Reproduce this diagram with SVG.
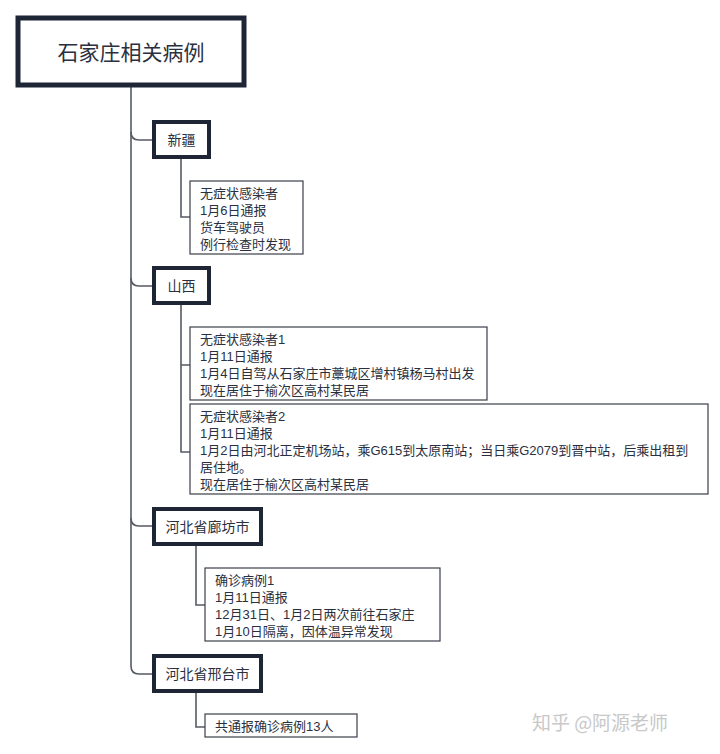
<svg xmlns="http://www.w3.org/2000/svg" width="720" height="754" viewBox="0 0 720 754">
<style>
.cat{fill:#fff;stroke:#1e2535;stroke-width:4}
.leaf{fill:#fff;stroke:#3a3f4a;stroke-width:1.2}
.ct{font-family:"Liberation Sans","Noto Sans CJK SC",sans-serif;font-size:14px;fill:#2a3040}
.lt{font-family:"Liberation Sans","Noto Sans CJK SC",sans-serif;font-size:13px;fill:#2a3040}
.ln{fill:none;stroke:#555a63;stroke-width:1.6}
</style>
<rect width="720" height="754" fill="#fff"/>
<g id="connectors">
<path class="ln" d="M131 86 V666 Q131 674 139 674 H152"/>
<path class="ln" d="M131 132 Q131 140 139 140 H152"/>
<path class="ln" d="M131 278 Q131 286 139 286 H152"/>
<path class="ln" d="M131 518 Q131 526 139 526 H152"/>
<path class="ln" d="M181 158 V217 H190"/>
<path class="ln" d="M181 305 V452 H190 M181 365 H190"/>
<path class="ln" d="M196 545 V605 H205"/>
<path class="ln" d="M196 692 V727 H205"/>
</g>
<g id="root"><rect x="18" y="18" width="226" height="67" fill="#fff" stroke="#1e2535" stroke-width="5"/>
<text x="131" y="60" text-anchor="middle" font-family="Noto Sans CJK SC,Liberation Sans,sans-serif" font-size="21" fill="#2a3040">石家庄相关病例</text></g>
<g id="xinjiang"><rect class="cat" x="154" y="122" width="55" height="35"/><text class="ct" x="181.5" y="145" text-anchor="middle">新疆</text></g>
<g id="xinjiang-1"><rect class="leaf" x="190" y="181" width="113" height="73"/>
<text class="lt" x="200" y="198">无症状感染者</text><text class="lt" x="200" y="215">1月6日通报</text><text class="lt" x="200" y="232">货车驾驶员</text><text class="lt" x="200" y="249">例行检查时发现</text></g>
<g id="shanxi"><rect class="cat" x="154" y="268" width="55" height="35"/><text class="ct" x="181.5" y="291" text-anchor="middle">山西</text></g>
<g id="shanxi-1"><rect class="leaf" x="190" y="327" width="297" height="73"/>
<text class="lt" x="200" y="344">无症状感染者1</text><text class="lt" x="200" y="361">1月11日通报</text><text class="lt" x="200" y="378">1月4日自驾从石家庄市藁城区增村镇杨马村出发</text><text class="lt" x="200" y="395">现在居住于榆次区高村某民居</text></g>
<g id="shanxi-2"><rect class="leaf" x="190" y="404" width="518" height="90"/>
<text class="lt" x="200" y="421">无症状感染者2</text><text class="lt" x="200" y="438">1月11日通报</text><text class="lt" x="200" y="455">1月2日由河北正定机场站，乘G615到太原南站；当日乘G2079到晋中站，后乘出租到</text><text class="lt" x="200" y="472">居住地。</text><text class="lt" x="200" y="489">现在居住于榆次区高村某民居</text></g>
<g id="langfang"><rect class="cat" x="154" y="509" width="107" height="35"/><text class="ct" x="207.5" y="532" text-anchor="middle">河北省廊坊市</text></g>
<g id="langfang-1"><rect class="leaf" x="205" y="568" width="235" height="73"/>
<text class="lt" x="215" y="585">确诊病例1</text><text class="lt" x="215" y="602">1月11日通报</text><text class="lt" x="215" y="619">12月31日、1月2日两次前往石家庄</text><text class="lt" x="215" y="636">1月10日隔离，因体温异常发现</text></g>
<g id="xingtai"><rect class="cat" x="154" y="656" width="107" height="35"/><text class="ct" x="207.5" y="679" text-anchor="middle">河北省邢台市</text></g>
<g id="xingtai-1"><rect class="leaf" x="205" y="714" width="152" height="23"/>
<text class="lt" x="215" y="731">共通报确诊病例13人</text></g>
<text x="600" y="730" text-anchor="middle" font-family="Noto Sans CJK SC,Liberation Sans,sans-serif" font-size="19" fill="#c8c8c8">知乎 @阿源老师</text>
</svg>
